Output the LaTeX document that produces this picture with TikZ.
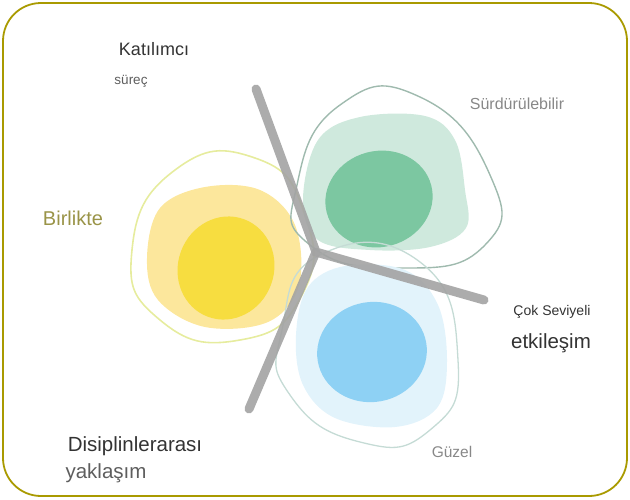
\documentclass[tikz,border=0pt]{standalone}
\usepackage{fontspec}
\setmainfont{Liberation Sans}
\begin{document}
\begin{tikzpicture}[x=1pt,y=-1pt,
  lbl/.style={inner sep=0pt, anchor=center},
  blob/.style={smooth cycle, tension=0.9},
  arm/.style={line width=9pt, line cap=round, draw=armC, opacity=0.9}]
\definecolor{frameC}{HTML}{A99A00}
\definecolor{armC}{HTML}{A3A3A3}
\definecolor{ylO}{HTML}{E6EC9E}
\definecolor{ylL}{HTML}{FCE79C}
\definecolor{ylD}{HTML}{F7DD40}
\definecolor{grO}{HTML}{9FBAAE}
\definecolor{grL}{HTML}{CFE9DD}
\definecolor{grD}{HTML}{7CC7A1}
\definecolor{blO}{HTML}{C5DBD5}
\definecolor{blL}{HTML}{E2F3FB}
\definecolor{blD}{HTML}{8ED1F4}
\definecolor{txtD}{HTML}{333333}
\definecolor{txtM}{HTML}{5E5E5E}
\definecolor{txtL}{HTML}{888888}
\definecolor{olv}{HTML}{9A9448}
\useasboundingbox (0,0) rectangle (630,499);
\draw[frameC, line width=1.8pt, rounded corners=38pt] (3,3) rectangle (627,496);

% yellow blob
\fill[ylL] plot[smooth cycle, tension=0.6] coordinates {(147,258) (160,208) (205,187) (260,190) (295,225) (299,285) (268,322) (205,327) (158,300)};
\fill[ylD, rotate around={-20:(226,268)}] (226,268) ellipse [x radius=48pt, y radius=52pt];
\draw[ylO, line width=1.6pt] plot[blob] coordinates {(132,250) (175,170) (255,158) (305,215) (302,295) (240,340) (160,320)};

% green blob
\fill[grL] plot[smooth cycle, tension=0.6] coordinates {(303,200) (318,140) (360,117) (425,116) (455,140) (465,190) (466,228) (430,247) (370,250) (318,240)};
\fill[grD, rotate around={15:(379,199)}] (379,199) ellipse [x radius=54pt, y radius=48pt];
\draw[grO, line width=1.4pt] plot[blob] coordinates {(297,185) (340,105) (420,97) (490,175) (485,245) (400,268) (310,245)};

% blue blob
\fill[blL] plot[smooth cycle, tension=0.6] coordinates {(296,335) (308,287) (345,266) (405,270) (438,305) (447,362) (437,408) (395,427) (335,418) (303,385)};
\fill[blD, rotate around={10:(372,352)}] (372,352) ellipse [x radius=55pt, y radius=50pt];
\draw[blO, line width=1.3pt] plot[blob] coordinates {(282,330) (320,255) (420,262) (458,360) (430,430) (360,442) (290,395)};

% gray Y
\coordinate (j) at (316,252);
\coordinate (up) at (256,89);
\coordinate (rt) at (484,300);
\coordinate (dn) at (249,409);
\draw[arm] (up) -- (j) -- (rt);
\draw[arm] (j) -- (dn);

% labels
\node[lbl, text=txtD, font=\fontsize{18}{20}\selectfont] (kat) at (154,49) {Katılımcı};
\node[lbl, text=txtM, font=\fontsize{13.5}{16}\selectfont] (sur) at (131,81) {süreç};
\node[lbl, text=olv, font=\fontsize{20}{22}\selectfont] (bir) at (73,218) {Birlikte};
\node[lbl, text=txtL, font=\fontsize{16}{18}\selectfont] (sdr) at (517,104) {Sürdürülebilir};
\node[lbl, text=txtD, font=\fontsize{14}{16}\selectfont] (cok) at (552,312) {Çok Seviyeli};
\node[lbl, text=txtD, font=\fontsize{20.5}{22}\selectfont] (etk) at (551,343) {etkileşim};
\node[lbl, text=txtD, font=\fontsize{20.5}{22}\selectfont] (dis) at (135,446) {Disiplinlerarası};
\node[lbl, text=txtM, font=\fontsize{20.5}{22}\selectfont] (yak) at (106,473) {yaklaşım};
\node[lbl, text=txtL, font=\fontsize{15.5}{18}\selectfont] (guz) at (452,452) {Güzel};
\end{tikzpicture}
\end{document}
